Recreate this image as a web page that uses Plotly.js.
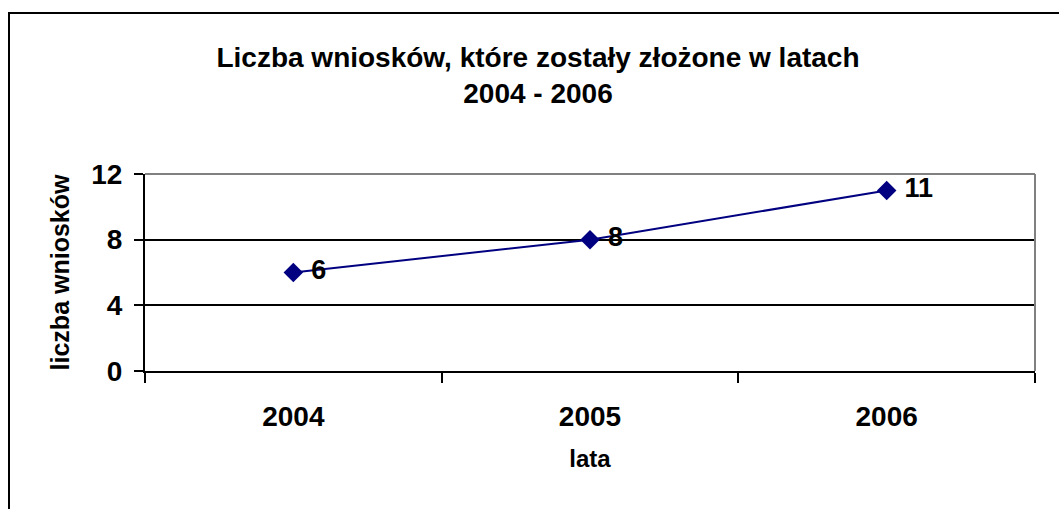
<!DOCTYPE html>
<html>
<head>
<meta charset="utf-8">
<script src="https://cdn.plot.ly/plotly-3.0.1.min.js"></script>
<style>
html,body{margin:0;padding:0;background:#fff;}
#chart{width:1059px;height:509px;}
</style>
</head>
<body>
<div id="chart"></div>
<script>
const years = ["2004", "2005", "2006"];
const counts = [6, 8, 11];
const yTicks = [0, 4, 8, 12];

const F = "Liberation Sans, Arial, sans-serif";
const L = 145, R = 1035, T = 174, B = 371;
const pw = R - L, ph = B - T;

const trace = {
  x: years,
  y: counts,
  type: "scatter",
  mode: "lines+markers+text",
  texttemplate: " %{y}",
  textposition: "middle right",
  textfont: {family: F, size: 27, color: "#000", weight: 700},
  line: {color: "#000080", width: 2},
  marker: {symbol: "diamond", size: 15, color: "#000080"},
  cliponaxis: false,
  hoverinfo: "skip"
};

const layout = {
  width: 1059,
  height: 509,
  margin: {l: L, r: 1059 - R, t: T, b: 509 - B},
  paper_bgcolor: "#fff",
  plot_bgcolor: "#fff",
  showlegend: false,
  title: {
    text: "Liczba wniosków, które zostały złożone w latach<br>2004 - 2006",
    font: {family: F, size: 28, color: "#000", weight: 700},
    x: 538 / 1059, xanchor: "center",
    y: 1 - 67 / 509, yanchor: "middle"
  },
  xaxis: {
    type: "category",
    range: [-0.5, 2.5],
    tickson: "boundaries",
    ticks: "outside", ticklen: 10, tickwidth: 2, tickcolor: "#000",
    showline: true, linecolor: "#000", linewidth: 2,
    showgrid: false, zeroline: false,
    ticklabelstandoff: 19,
    tickfont: {family: F, size: 28, color: "#000", weight: 700},
    title: {text: "lata", standoff: 20, font: {family: F, size: 24, color: "#000", weight: 700}},
    fixedrange: true
  },
  yaxis: {
    range: [0, 12],
    tickmode: "array",
    tickvals: yTicks,
    ticktext: yTicks.map(String),
    ticks: "outside", ticklen: 9, tickwidth: 2, tickcolor: "#000",
    showline: true, linecolor: "#000", linewidth: 2,
    showgrid: true, gridcolor: "#000", gridwidth: 2,
    zeroline: false,
    ticklabelstandoff: 6,
    tickfont: {family: F, size: 28, color: "#000", weight: 700},
    title: {text: "liczba wniosków", standoff: 14, font: {family: F, size: 25, color: "#000", weight: 700}},
    fixedrange: true
  },
  shapes: [
    {type: "line", xref: "paper", yref: "paper", x0: 0, x1: 1, y0: 1, y1: 1,
     line: {color: "#808080", width: 2}, layer: "above"},
    {type: "line", xref: "paper", yref: "paper", x0: 1, x1: 1, y0: 0, y1: 1,
     line: {color: "#808080", width: 2}, layer: "above"},
    {type: "rect", xref: "paper", yref: "paper",
     x0: (9 - L) / pw, x1: 1.2, y0: -1.5, y1: (B - 13) / ph,
     line: {color: "#000", width: 2}, fillcolor: "rgba(0,0,0,0)", layer: "below"}
  ]
};

Plotly.newPlot("chart", [trace], layout, {displayModeBar: false, staticPlot: true});
</script>
</body>
</html>
